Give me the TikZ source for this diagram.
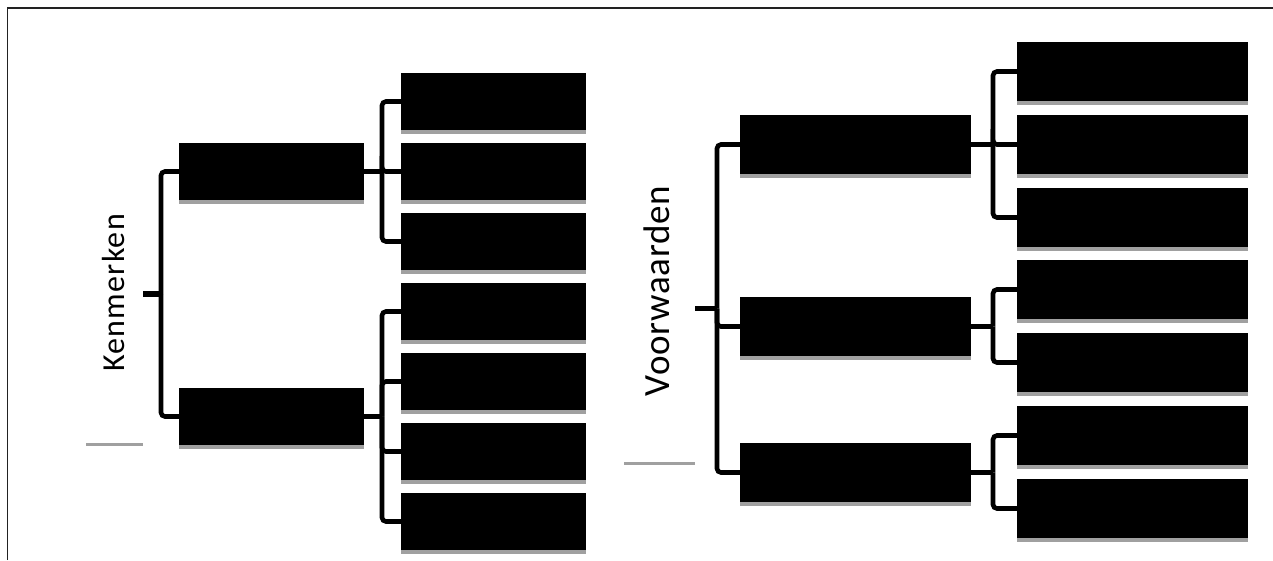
\documentclass[tikz,border=0pt]{standalone}
\usepackage{fontspec}
\setmainfont{Carlito}
\usetikzlibrary{shadows}
\definecolor{stripgray}{HTML}{A0A0A0}
\definecolor{framegray}{HTML}{222222}
\tikzset{
  leafbox/.style={draw=none, fill=black, inner sep=0pt, outer sep=0pt,
    general shadow={fill=stripgray, shadow yshift=-4pt}},
  smallbox/.style={leafbox, minimum width=185pt, minimum height=57pt},
  widebox/.style={leafbox, minimum width=231pt, minimum height=59pt},
  conn/.style={draw=black, line width=4.6pt, rounded corners=4pt},
  tick/.style={draw=black, line width=5.5pt},
  underline/.style={draw=stripgray, line width=3pt},
  heading/.style={rotate=90, inner sep=0pt, text=black}
}
\begin{document}
\begin{tikzpicture}[x=1pt, y=-1pt]
\useasboundingbox (0,0) rectangle (1273,560);

% frame along the top and left edges
\draw[framegray, line width=1.6pt] (7.5,560) -- (7.5,8) -- (1273,8);

% ---------- Kenmerken ----------
\node[heading, font=\fontsize{32}{36}\selectfont\addfontfeature{LetterSpace=4}] (kenm) at (113,293) {Kenmerken};
\coordinate (kroot) at (161,294);
\coordinate (ktick) at (143,294);
\draw[tick] (ktick) -- (kroot);
\draw[underline] (86,444) -- (143,444);

\node[smallbox] (kp1) at (271.5,171.5) {};
\node[smallbox] (kp2) at (271.5,416.5) {};

\foreach \i/\y in {1/101.5, 2/171.5, 3/241.5, 4/311.5, 5/381.5, 6/451.5, 7/521.5}
  \node[smallbox] (kc\i) at (493.5,\y) {};

% branch points between parents and their children
\coordinate (kb1) at ([xshift=18pt]kp1.east);
\coordinate (kb2) at ([xshift=18pt]kp2.east);

\draw[conn] (kroot) |- (kp1.west);
\draw[conn] (kroot) |- (kp2.west);
\draw[conn] (kp1.east) -- (kb1);
\draw[conn] (kp2.east) -- (kb2);
\foreach \i in {1,2,3}
  \draw[conn] (kb1) |- (kc\i.west);
\foreach \i in {4,5,6,7}
  \draw[conn] (kb2) |- (kc\i.west);

% ---------- Voorwaarden ----------
\node[heading, font=\fontsize{37}{40}\selectfont\addfontfeature{LetterSpace=2}] (voorw) at (657,291) {Voorwaarden};
\coordinate (vroot) at (717,308.5);
\coordinate (vtick) at (695,308.5);
\draw[tick] (vtick) -- (vroot);
\draw[underline] (624,463) -- (695,463);

\node[widebox] (vp1) at (855.5,144.5) {};
\node[widebox] (vp2) at (855.5,326.5) {};
\node[widebox] (vp3) at (855.5,472.5) {};

\foreach \i/\y in {1/71.5, 2/144.5, 3/217.5, 4/289.5, 5/362.5, 6/435.5, 7/508.5}
  \node[widebox] (vc\i) at (1132.5,\y) {};

\coordinate (vb1) at ([xshift=22pt]vp1.east);
\coordinate (vb2) at ([xshift=22pt]vp2.east);
\coordinate (vb3) at ([xshift=22pt]vp3.east);

\draw[conn] (vroot) |- (vp1.west);
\draw[conn] (vroot) |- (vp2.west);
\draw[conn] (vroot) |- (vp3.west);
\draw[conn] (vp1.east) -- (vb1);
\draw[conn] (vp2.east) -- (vb2);
\draw[conn] (vp3.east) -- (vb3);
\foreach \i in {1,2,3}
  \draw[conn] (vb1) |- (vc\i.west);
\foreach \i in {4,5}
  \draw[conn] (vb2) |- (vc\i.west);
\foreach \i in {6,7}
  \draw[conn] (vb3) |- (vc\i.west);
\end{tikzpicture}
\end{document}
